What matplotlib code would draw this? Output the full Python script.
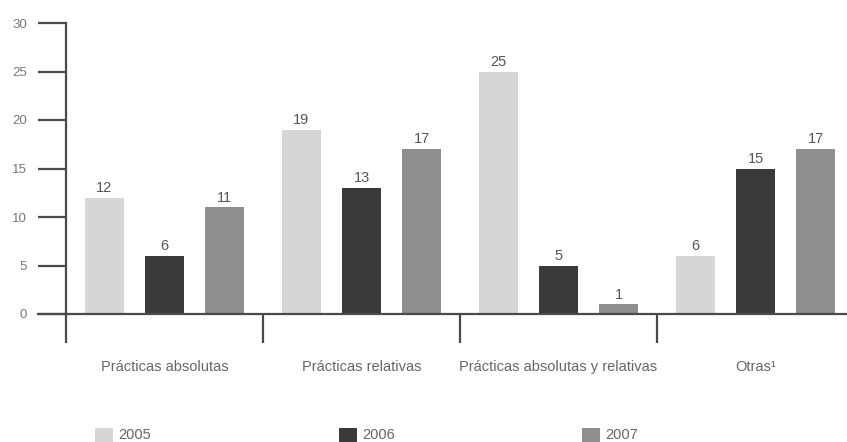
import matplotlib
matplotlib.use("Agg")
import matplotlib.pyplot as plt
import numpy as np

categories = ["Prácticas absolutas", "Prácticas relativas",
              "Prácticas absolutas y relativas", "Otras¹"]
years = ["2005", "2006", "2007"]
values_2005 = [12, 19, 25, 6]
values_2006 = [6, 13, 5, 15]
values_2007 = [11, 17, 1, 17]
y_ticks = [0, 5, 10, 15, 20, 25, 30]

series = [values_2005, values_2006, values_2007]
colors = ["#d6d6d6", "#3a3a3a", "#8e8e8e"]

plt.rcParams["font.family"] = ["Liberation Sans", "DejaVu Sans"]

W, H = 847, 442
fig = plt.figure(figsize=(W / 100, H / 100), dpi=100)
x0, x1 = 66, 854
ytop, ybot = 23, 314
ax = fig.add_axes([x0 / W, 1 - ybot / H, (x1 - x0) / W, (ybot - ytop) / H])

centers = np.arange(len(categories)) + 0.5
offset = 0.305
width = 0.2
axis_col = "#4a4a4a"

bars = []
for i, (vals, col) in enumerate(zip(series, colors)):
    b = ax.bar(centers + (i - 1) * offset, vals, width=width, color=col,
               edgecolor="none", label=years[i], zorder=2)
    bars.append(b)
    for rect, v in zip(b, vals):
        ax.annotate(f"{v}", (rect.get_x() + rect.get_width() / 2, v),
                    xytext=(0, 2), textcoords="offset points",
                    ha="center", va="bottom", fontsize=10.5, color="#555555")

ax.set_xlim(0, len(categories))
ax.set_ylim(0, 30)
ax.set_yticks(y_ticks)
ax.set_yticklabels([str(t) for t in y_ticks])
ax.tick_params(axis="y", direction="out", length=20, width=1.6,
               color=axis_col, labelsize=9.5, labelcolor="#777777", pad=8)

# Category separators as long downward ticks; names centred in each group
ax.set_xticks(np.arange(len(categories) + 1), minor=True)
ax.tick_params(axis="x", which="minor", direction="out", length=21,
               width=1.6, color=axis_col)
ax.set_xticks(centers)
ax.set_xticklabels(categories)
ax.tick_params(axis="x", which="major", length=0, pad=33,
               labelsize=10.5, labelcolor="#666666")

for s in ["top", "right"]:
    ax.spines[s].set_visible(False)
for s in ["left", "bottom"]:
    ax.spines[s].set_color(axis_col)
    ax.spines[s].set_linewidth(1.6)

# Extend baseline to the left, under the 0 tick
ax.plot([-28 / (x1 - x0) * len(categories), 0], [0, 0], color=axis_col,
        lw=1.6, clip_on=False, transform=ax.transData, zorder=3)

fig.legend(handles=bars, labels=years, loc="center left",
           bbox_to_anchor=(82 / W, 1 - 435 / H), ncol=3, frameon=False,
           fontsize=10.5, labelcolor="#666666", handlelength=1.25,
           handleheight=1.1, handletextpad=0.35, columnspacing=12.85)

fig.savefig("out.png", dpi=100)
